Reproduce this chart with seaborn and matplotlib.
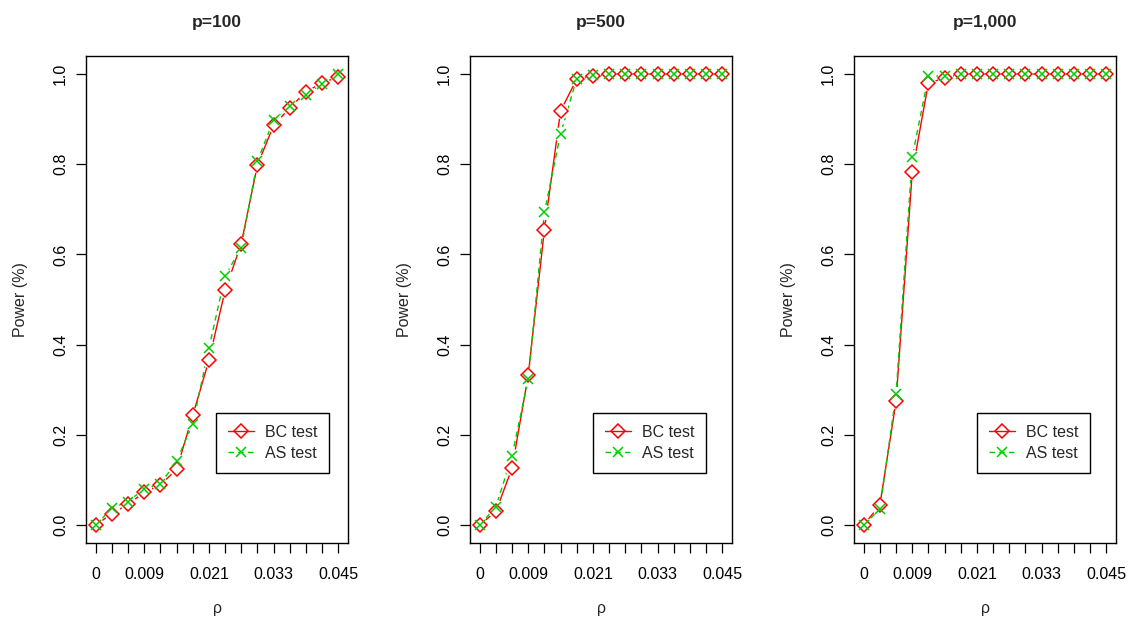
import matplotlib
matplotlib.use("Agg")
import matplotlib.pyplot as plt
import seaborn as sns
import pandas as pd
from matplotlib.lines import Line2D

# ---------------- data ----------------
rho = [0.000, 0.003, 0.006, 0.009, 0.012, 0.015, 0.018, 0.021,
       0.024, 0.027, 0.030, 0.033, 0.036, 0.039, 0.042, 0.045]
x_tick_labels = ["0", "", "", "0.009", "", "", "", "0.021",
                 "", "", "", "0.033", "", "", "", "0.045"]
y_ticks = [0.0, 0.2, 0.4, 0.6, 0.8, 1.0]
y_tick_labels = ["0.0", "0.2", "0.4", "0.6", "0.8", "1.0"]
titles = ["p=100", "p=500", "p=1,000"]
series_names = ["BC test", "AS test"]

bc_p100 = [0.000, 0.025, 0.046, 0.072, 0.089, 0.123, 0.243, 0.365,
           0.520, 0.624, 0.798, 0.886, 0.925, 0.961, 0.980, 0.994]
as_p100 = [0.000, 0.037, 0.052, 0.080, 0.090, 0.142, 0.224, 0.392,
           0.552, 0.615, 0.807, 0.898, 0.930, 0.953, 0.979, 1.000]

bc_p500 = [0.000, 0.030, 0.126, 0.332, 0.655, 0.918, 0.989, 0.995,
           1.000, 1.000, 1.000, 1.000, 1.000, 1.000, 1.000, 1.000]
as_p500 = [0.000, 0.040, 0.154, 0.323, 0.693, 0.868, 0.990, 0.997,
           1.000, 1.000, 1.000, 1.000, 1.000, 1.000, 1.000, 1.000]

bc_p1000 = [0.000, 0.044, 0.274, 0.782, 0.980, 0.991, 1.000, 1.000,
            1.000, 1.000, 1.000, 1.000, 1.000, 1.000, 1.000, 1.000]
as_p1000 = [0.000, 0.035, 0.290, 0.816, 0.995, 0.996, 1.000, 1.000,
            1.000, 1.000, 1.000, 1.000, 1.000, 1.000, 1.000, 1.000]

bc_all = [bc_p100, bc_p500, bc_p1000]
as_all = [as_p100, as_p500, as_p1000]

# ---------------- style ----------------
RED = "#FF0000"
GREEN = "#00CD00"

sns.set_style("ticks")
plt.rcParams["font.family"] = ["Liberation Sans", "DejaVu Sans"]
plt.rcParams["axes.edgecolor"] = "black"
plt.rcParams["axes.linewidth"] = 1.0

FS = 11.5

fig = plt.figure(figsize=(11.3, 6.2), dpi=100)
W, H = 1130.0, 620.0
lefts = [86, 470, 854]
leg_x = [0.497, 0.47, 0.47]

for i in range(3):
    ax = fig.add_axes([lefts[i] / W, 77 / H, 262 / W, 487 / H])
    df = pd.DataFrame({"rho": rho, "bc": bc_all[i], "as": as_all[i]})

    # lines
    sns.lineplot(data=df, x="rho", y="bc", ax=ax, color=RED, lw=1.0,
                 zorder=2, estimator=None)
    sns.lineplot(data=df, x="rho", y="as", ax=ax, color=GREEN, lw=1.0,
                 linestyle=(0, (4.0, 3.0)), zorder=2, estimator=None)
    # gaps around points (R type="b")
    for col in ["bc", "as"]:
        sns.scatterplot(data=df, x="rho", y=col, ax=ax, s=120,
                        color="white", linewidth=0, zorder=3, legend=False)
    # markers
    sns.lineplot(data=df, x="rho", y="bc", ax=ax, linestyle="", marker="D",
                 markersize=6.8, markerfacecolor="none", markeredgecolor=RED,
                 markeredgewidth=1.1, color=RED, zorder=4, estimator=None)
    sns.lineplot(data=df, x="rho", y="as", ax=ax, linestyle="", marker="x",
                 markersize=7, markeredgecolor=GREEN, markeredgewidth=1.1,
                 color=GREEN, zorder=5, estimator=None)

    ax.set_xlim(-0.0018, 0.0468)
    ax.set_ylim(-0.04, 1.04)
    ax.set_xticks(rho)
    ax.set_xticklabels(x_tick_labels, fontsize=FS)
    ax.set_yticks(y_ticks)
    ax.set_yticklabels(y_tick_labels, fontsize=FS, rotation=90, va="center")
    ax.tick_params(axis="both", direction="out", length=7, width=0.9,
                   color="black", labelcolor="black")
    ax.tick_params(axis="x", pad=10)
    ax.tick_params(axis="y", pad=6)
    for s in ax.spines.values():
        s.set_visible(True)
        s.set_color("black")
        s.set_linewidth(1.0)

    ax.set_title(titles[i], fontsize=12.5, fontweight="bold", pad=21)
    ax.set_xlabel("\u03c1", fontsize=FS, labelpad=14)
    ax.set_ylabel("Power (%)", fontsize=FS, labelpad=18)

    handles = [
        Line2D([0], [0], color=RED, lw=1.0, marker="D", markersize=6.8,
               markerfacecolor="none", markeredgecolor=RED, markeredgewidth=1.1),
        Line2D([0], [0], color=GREEN, lw=1.0, linestyle=(0, (4.0, 3.0)),
               marker="x", markersize=7, markeredgecolor=GREEN,
               markeredgewidth=1.1),
    ]
    leg = ax.legend(handles, series_names, loc="upper left",
                    bbox_to_anchor=(leg_x[i], 0.267), fontsize=FS,
                    frameon=True, fancybox=False, shadow=False,
                    framealpha=1, edgecolor="black", borderpad=0.75,
                    labelspacing=0.35, handlelength=1.6, handletextpad=0.7,
                    borderaxespad=0)
    leg.get_frame().set_linewidth(1.0)

fig.savefig("out.png", dpi=100, facecolor="white")
